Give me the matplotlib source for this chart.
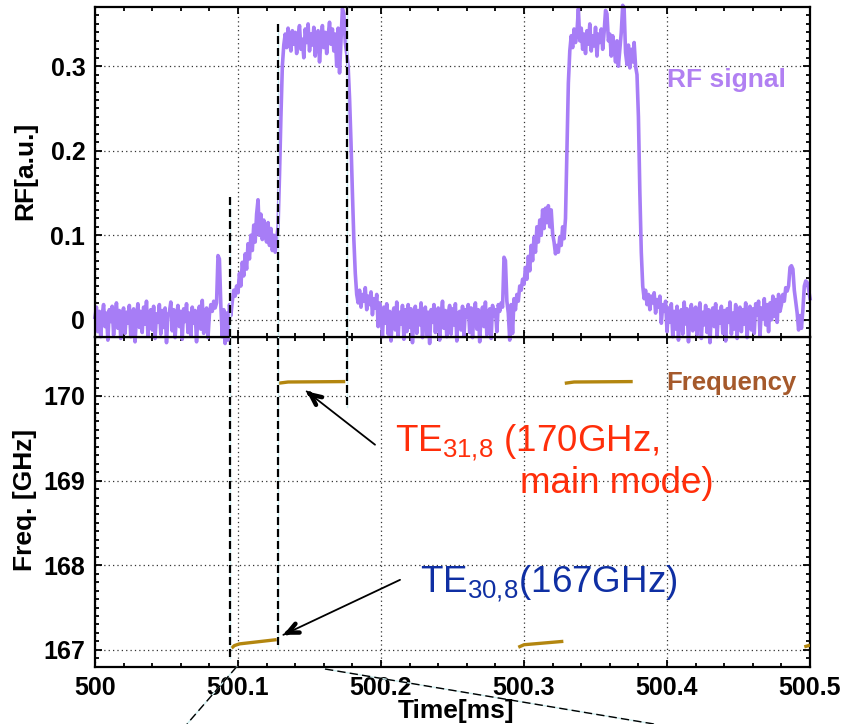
import numpy as np
import matplotlib
matplotlib.use("Agg")
import matplotlib.pyplot as plt
from matplotlib.lines import Line2D
from matplotlib.ticker import MultipleLocator

plt.rcParams['font.family'] = ['Liberation Sans', 'DejaVu Sans']
plt.rcParams['mathtext.fontset'] = 'custom'
plt.rcParams['mathtext.rm'] = 'Liberation Sans'
plt.rcParams['mathtext.it'] = 'Liberation Sans:italic'
plt.rcParams['mathtext.bf'] = 'Liberation Sans:bold'

# ---------------- data ----------------
rf_t0 = 500.0
rf_dt = 0.001  # ms sampling of digitised trace
# RF signal, thousandths of a.u. (one row = 0.02 ms)
rf_milli = [
    3, 15, -14, 10, -20, 6, 18, -8, 8, -24, 12, -2, 16, -18, 5, 20, -10, 11, -22, 7,
    14, -16, 9, -4, 17, -20, 6, 13, -26, 4, 19, -9, 10, -15, 15, -5, 22, -19, 8, 12,
    -12, 16, -22, 7, -3, 18, -17, 11, -9, 14, -27, 6, 9, 21, -13, 12, -21, 5, 17, -8,
    10, -23, 13, -2, 19, -15, 8, -19, 15, -4, 11, -26, 7, 16, -11, 23, -16, 9, 14, -21,
    6, 18, 10, 22, 14, 20, 76, 72, 16, -20, 12, -28, 8, -24, 18, 5, 22, 35, 28, 40,
    32, 55, 40, 68, 52, 78, 60, 90, 72, 100, 82, 112, 92, 125, 142, 100, 125, 95, 118, 100,
    92, 115, 88, 108, 82, 100, 80, 95, 110, 170, 240, 300, 325, 338, 322, 345, 330, 318, 342, 326,
    340, 315, 336, 348, 320, 332, 310, 344, 328, 350, 318, 338, 325, 346, 312, 334, 342, 305, 330, 348,
    322, 340, 315, 336, 352, 326, 344, 318, 338, 300, 345, 292, 330, 368, 362, 328, 315, 300, 262, 210,
    150, 95, 55, 30, 20, 35, 15, 30, 22, 38, 12, 28, 18, 33, 6, 25, 14, 30, -8, 20,
    8, -20, 15, -4, 19, -17, 10, -25, 6, 14, -12, 21, -19, 9, -5, 17, -23, 12, -14, 18,
    -9, 13, -27, 7, 16, -16, 11, -6, 20, -21, 5, 15, -18, 9, -28, 12, -3, 18, -15, 10,
    14, -24, 6, 22, -10, 11, -20, 8, 17, -17, 13, -6, 19, -25, 7, 10, -12, 16, -19, 12,
    3, 18, -15, 14, -21, 9, 20, -11, 12, -26, 6, 15, -8, 21, -18, 8, 13, -22, 17, 5,
    12, -14, 18, 10, 20, 15, 74, 70, 22, 8, -24, 18, -16, 25, 12, 30, 22, 40, 35, 48,
    42, 62, 48, 75, 58, 88, 70, 98, 80, 110, 92, 118, 100, 130, 108, 132, 115, 135, 110, 130,
    102, 92, 78, 88, 80, 98, 88, 110, 96, 120, 200, 280, 318, 336, 322, 344, 328, 340, 368, 330,
    345, 320, 338, 315, 342, 326, 350, 318, 336, 324, 346, 312, 338, 328, 344, 320, 340, 366, 362, 330,
    338, 312, 336, 322, 305, 330, 300, 320, 340, 372, 368, 316, 302, 325, 298, 320, 305, 328, 300, 290,
    240, 150, 80, 40, 25, 35, 18, 30, 12, 28, 20, 32, 8, 24, 15, 28, -4, 18, 10, 22,
    -14, 14, -3, 19, -20, 10, -11, 16, -24, 8, 12, -17, 21, -5, 13, -26, 7, 18, -13, 11,
    15, -18, 6, 20, -22, 9, -6, 17, -15, 12, -27, 8, 14, -8, 19, -20, 10, -4, 16, -16,
    11, -25, 13, -3, 21, -17, 8, -11, 18, -22, 10, 15, -14, 12, -5, 20, -21, 7, 16, -12,
    13, -16, 19, 6, 22, -19, 14, 1, 25, -6, 18, -14, 20, 0, 28, 4, 24, -3, 30, 10,
    18, 30, 22, 38, 34, 40, 62, 64, 60, 35, 22, 8, -12, 5, -10, 12, 40, 46, 44, 36,
    25,
]
rf_time = rf_t0 + rf_dt * np.arange(len(rf_milli))
rf_value = np.array(rf_milli) / 1000.0

# Frequency trace segments (time [ms], freq [GHz])
freq_seg1_t = [500.0955, 500.0975, 500.101, 500.127]
freq_seg1_f = [167.02, 167.05, 167.07, 167.12]
freq_seg2_t = [500.128, 500.135, 500.175]
freq_seg2_f = [170.15, 170.165, 170.17]
freq_seg3_t = [500.296, 500.300, 500.3275]
freq_seg3_f = [167.03, 167.06, 167.10]
freq_seg4_t = [500.3285, 500.335, 500.376]
freq_seg4_f = [170.15, 170.165, 170.17]
freq_seg5_t = [500.496, 500.500]
freq_seg5_f = [167.035, 167.055]
freq_segments = [(freq_seg1_t, freq_seg1_f), (freq_seg2_t, freq_seg2_f),
                 (freq_seg3_t, freq_seg3_f), (freq_seg4_t, freq_seg4_f),
                 (freq_seg5_t, freq_seg5_f)]

# vertical dashed marker lines: time, top-panel upper end, bottom-panel lower end
marker_times = [500.0944, 500.1277, 500.176]
marker_rf_top = [0.145, 0.35, 0.37]
marker_freq_bottom = [166.9, 167.02, 169.87]

rf_ticks = [0, 0.1, 0.2, 0.3]
rf_ticklabels = ['0', '0.1', '0.2', '0.3']
freq_ticks = [167, 168, 169, 170]
time_ticks = [500, 500.1, 500.2, 500.3, 500.4, 500.5]
time_ticklabels = ['500', '500.1', '500.2', '500.3', '500.4', '500.5']

RF_COLOR = '#A77DF6'
FREQ_COLOR = '#B3860F'

# ---------------- figure ----------------
fig = plt.figure(figsize=(8.43, 7.24), dpi=100)
L, W = 0.1127, 0.8482
ax1 = fig.add_axes([L, 0.5349, W, 0.4554])
ax2 = fig.add_axes([L, 0.0791, W, 0.4558])
ax1.set_zorder(3)
ax2.set_zorder(1)

for ax in (ax1, ax2):
    ax.set_xlim(500, 500.5)
    ax.set_xticks(time_ticks)
    ax.xaxis.set_minor_locator(MultipleLocator(0.02))
    ax.tick_params(which='both', direction='in', top=True, right=True, width=1.3)
    ax.tick_params(which='major', length=5)
    ax.tick_params(which='minor', length=3)
    ax.grid(True, which='major', linestyle=(0, (1, 2.5)), color='#333333', lw=0.9)
    ax.set_axisbelow(True)
    for s in ax.spines.values():
        s.set_linewidth(1.6)

ax1.set_ylim(-0.02, 0.37)
ax1.set_yticks(rf_ticks)
ax1.set_yticklabels(rf_ticklabels)
ax1.yaxis.set_minor_locator(MultipleLocator(0.01))
ax1.tick_params(axis='x', labelbottom=False)

ax2.set_ylim(166.8, 170.7)
ax2.set_yticks(freq_ticks)
ax2.yaxis.set_minor_locator(MultipleLocator(0.1))
ax2.set_xticklabels(time_ticklabels)

for ax in (ax1, ax2):
    for lab in ax.get_xticklabels() + ax.get_yticklabels():
        lab.set_fontweight('bold')
        lab.set_fontsize(18)
    ax.tick_params(axis='y', pad=7)
    ax.tick_params(axis='x', pad=7)

# RF trace
ax1.plot(rf_time, rf_value, color=RF_COLOR, lw=2.6, clip_on=False, zorder=2,
         solid_joinstyle='round')

# frequency trace
for t, f in freq_segments:
    ax2.plot(t, f, color=FREQ_COLOR, lw=2.4, solid_capstyle='butt', zorder=3)

# dashed marker lines
dash = (0, (3.6, 1.8))
for t, top, bot in zip(marker_times, marker_rf_top, marker_freq_bottom):
    ax1.plot([t, t], [top, -0.02], color='#CFEFF0', lw=1.0, zorder=4, clip_on=False)
    ax1.plot([t, t], [top, -0.02], color='black', lw=1.6, linestyle=dash, zorder=5, clip_on=False)
    ax2.plot([t, t], [170.7, bot], color='#CFEFF0', lw=1.0, zorder=4)
    ax2.plot([t, t], [170.7, bot], color='black', lw=1.6, linestyle=dash, zorder=5)

# labels
fig.text(25 / 843, 1 - 171 / 724, 'RF[a.u.]', rotation=90, ha='center', va='center',
         fontsize=19, fontweight='bold')
fig.text(25 / 843, 1 - 500 / 724, 'Freq. [GHz]', rotation=90, ha='center', va='center',
         fontsize=19, fontweight='bold')
fig.text(456 / 843, 1 - 699 / 724, 'Time[ms]', ha='center', va='top',
         fontsize=19, fontweight='bold')

ax1.text(500.4, 0.284, 'RF signal', color='#B180F2', fontsize=19, fontweight='bold',
         ha='left', va='center')
ax2.text(500.3998, 170.157, 'Frequency', color='#A5592B', fontsize=18.5, fontweight='bold',
         ha='left', va='center')

ax2.text(500.2098, 169.345, r'TE$_{\mathrm{31{,}8}}$ (170GHz,', color='#FF2E0A',
         fontsize=26.5, ha='left', va='baseline')
ax2.text(500.2972, 168.857, 'main mode)', color='#FF2E0A', fontsize=26.5,
         ha='left', va='baseline')
ax2.text(500.2273, 167.674, r'TE$_{\mathrm{30{,}8}}$(167GHz)', color='#0F2FA3',
         fontsize=26.5, ha='left', va='baseline')


def arrow(ax, tail, head):
    ax.annotate('', xy=head, xytext=tail,
                arrowprops=dict(arrowstyle='-', color='black', lw=1.3,
                                shrinkA=0, shrinkB=0), zorder=6)
    near = (head[0] + (tail[0] - head[0]) * 0.04, head[1] + (tail[1] - head[1]) * 0.04)
    ax.annotate('', xy=head, xytext=near,
                arrowprops=dict(arrowstyle='->,head_length=0.75,head_width=0.35',
                                color='black', lw=3.2, shrinkA=0, shrinkB=0), zorder=6)


arrow(ax2, (500.1958, 169.424), (500.148, 170.054))
arrow(ax2, (500.2133, 167.827), (500.1317, 167.177))

# zoom connector lines leaving the bottom of the figure
for (x0, y0), (x1, y1) in [((236.7, 666.7), (187, 724)), ((325, 669), (654, 724))]:
    xs = [x0 / 843, x1 / 843]
    ys = [1 - y0 / 724, 1 - y1 / 724]
    fig.add_artist(Line2D(xs, ys, transform=fig.transFigure, color='#CFEFF0', lw=1.0))
    fig.add_artist(Line2D(xs, ys, transform=fig.transFigure, color='black', lw=1.0,
                          linestyle=(0, (6, 3))))

fig.savefig('out.png', dpi=100)
